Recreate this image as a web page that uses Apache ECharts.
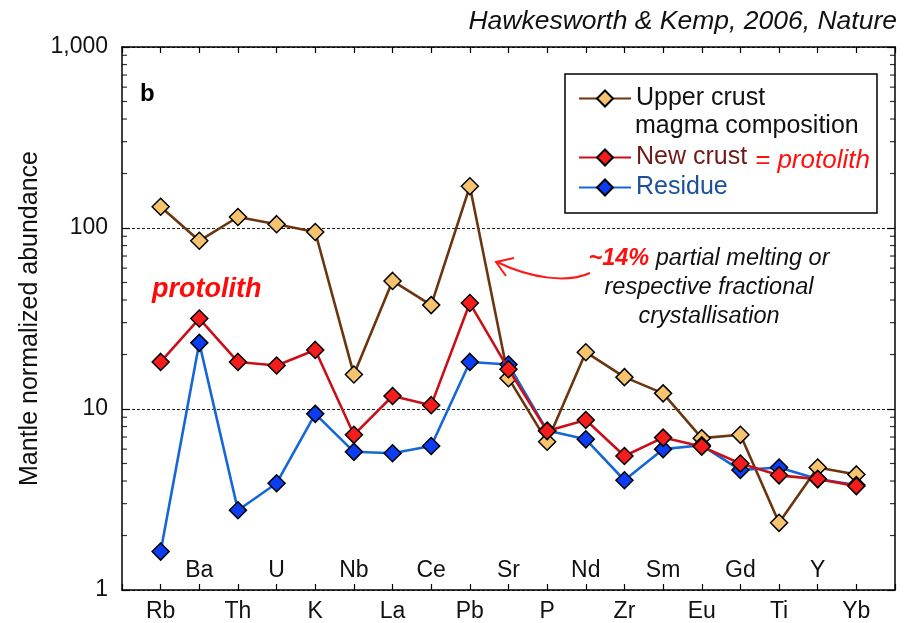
<!DOCTYPE html>
<html>
<head>
<meta charset="utf-8">
<script src="https://cdn.jsdelivr.net/npm/echarts@6/dist/echarts.min.js"></script>
<style>html,body{margin:0;padding:0;background:#fff}#c{width:907px;height:623px}</style>
</head>
<body>
<div id="c"></div>
<script>
// ---- data ----
const categories = ['Rb','Ba','Th','U','K','Nb','La','Ce','Pb','Sr','P','Nd','Zr','Sm','Eu','Gd','Ti','Y','Yb'];
const upperCrust = [131, 85, 115, 105, 95, 15.5, 51, 37.5, 170, 14.8, 6.6, 20.6, 15.0, 12.2, 6.9, 7.2, 2.35, 4.75, 4.35];
const newCrust   = [18.2, 31.6, 18.2, 17.4, 21.2, 7.2, 11.8, 10.5, 38.5, 16.6, 7.55, 8.7, 5.5, 6.95, 6.2, 5.0, 4.3, 4.1, 3.75];
const residue    = [1.63, 23.2, 2.76, 3.89, 9.4, 5.8, 5.7, 6.25, 18.2, 17.6, 7.6, 6.8, 4.04, 6.0, 6.3, 4.6, 4.75, 4.1, 3.8];
const yTickLabels = {1: '1', 10: '10', 100: '100', 1000: '1,000'};
const minorTickValues = [2,3,4,5,6,7,8,9,20,30,40,50,60,70,80,90,200,300,400,500,600,700,800,900];

const FONT = 'Liberation Sans, Arial, Helvetica, sans-serif';
const toXY = arr => arr.map((v, i) => [i, v]);
const xMin = -1, xMax = categories.length;

const chart = echarts.init(document.getElementById('c'), null, {renderer: 'canvas'});

const baseX = {
  type: 'value', min: xMin, max: xMax, interval: 1,
  splitLine: {show: false},
  axisLine: {show: false}, axisTick: {show: false}, axisLabel: {show: false}
};

const option = {
  animation: false,
  backgroundColor: '#fff',
  grid: {left: 122, right: 12, top: 47, bottom: 32, containLabel: false},
  xAxis: [
    Object.assign({}, baseX, {
      position: 'bottom',
      axisLine: {show: true, onZero: false, lineStyle: {color: '#000', width: 1.5}},
      axisTick: {show: true, inside: true, length: 6, lineStyle: {color: '#000', width: 1.2}},
      axisLabel: {
        show: true, margin: 10, fontSize: 23, color: '#111', fontFamily: FONT,
        formatter: v => (v >= 0 && v < categories.length && v % 2 === 0) ? categories[v] : ''
      }
    }),
    Object.assign({}, baseX, {
      position: 'bottom',
      axisLabel: {
        show: true, inside: true, margin: 8, fontSize: 23, color: '#111', fontFamily: FONT,
        formatter: v => (v >= 0 && v < categories.length && v % 2 === 1) ? categories[v] : ''
      }
    }),
    Object.assign({}, baseX, {
      position: 'top',
      axisLine: {show: true, onZero: false, lineStyle: {color: '#000', width: 1.5}},
      axisTick: {show: true, inside: true, length: 6, lineStyle: {color: '#000', width: 1.2}}
    })
  ],
  yAxis: [
    {
      type: 'log', logBase: 10, min: 1, max: 1000, position: 'left',
      name: 'Mantle normalized abundance', nameLocation: 'middle', nameGap: 79, nameRotate: 90,
      nameMoveOverlap: false,
      nameTextStyle: {fontSize: 25, color: '#111', fontFamily: FONT},
      axisLine: {show: true, onZero: false, lineStyle: {color: '#000', width: 1.5}},
      axisTick: {show: true, inside: true, length: 8, lineStyle: {color: '#000', width: 1.2}},
      axisLabel: {fontSize: 23, color: '#111', fontFamily: FONT, margin: 14,
        formatter: v => yTickLabels[Math.round(v)] || ''},
      splitLine: {show: true, lineStyle: {color: '#222', width: 1, type: [3, 2]}}
    },
    {
      type: 'log', logBase: 10, min: 1, max: 1000, position: 'right',
      axisLine: {show: true, onZero: false, lineStyle: {color: '#000', width: 1.5}},
      axisTick: {show: true, inside: true, length: 8, lineStyle: {color: '#000', width: 1.2}},
      axisLabel: {show: false},
      splitLine: {show: false}
    }
  ],
  legend: [
    {
      data: ['Upper crust'], left: 578, top: 86, orient: 'vertical', padding: 0,
      itemWidth: 52, itemHeight: 20, itemGap: 6,
      textStyle: {fontSize: 25, color: '#111', fontFamily: FONT}
    },
    {
      data: [
        {name: 'New crust', textStyle: {color: '#6e1a1a'}},
        {name: 'Residue', textStyle: {color: '#1c4f9c'}}
      ],
      left: 578, top: 145, orient: 'vertical', padding: 0,
      itemWidth: 52, itemHeight: 20, itemGap: 5,
      textStyle: {fontSize: 25, fontFamily: FONT}
    }
  ],
  graphic: [
    {type: 'rect', z: 3, shape: {x: 565, y: 74, width: 312, height: 139},
      style: {fill: '#fff', stroke: '#000', lineWidth: 1.5}},
    {type: 'text', z: 5, style: {text: 'magma composition', x: 635, y: 126, verticalAlign: 'middle',
      fill: '#111', fontSize: 25, fontFamily: FONT}},
    {type: 'text', z: 5, style: {text: '= protolith', x: 755, y: 161, verticalAlign: 'middle',
      fill: '#ff1010', fontSize: 26, fontStyle: 'italic', fontFamily: FONT}},
    {type: 'text', z: 5, style: {text: 'Hawkesworth & Kemp, 2006, Nature', x: 897, y: 22, align: 'right',
      verticalAlign: 'middle', fill: '#111', fontSize: 26.5, fontStyle: 'italic', fontFamily: FONT}},
    {type: 'text', z: 5, style: {text: 'b', x: 140, y: 94, verticalAlign: 'middle',
      fill: '#000', fontSize: 24, fontWeight: 'bold', fontFamily: FONT}},
    {type: 'text', z: 5, style: {text: 'protolith', x: 152, y: 290, verticalAlign: 'middle',
      fill: '#ff0a0a', fontSize: 27, fontWeight: 'bold', fontStyle: 'italic', fontFamily: FONT}},
    {type: 'text', z: 5, style: {
      text: '{r|~14%} partial melting or\nrespective fractional\ncrystallisation',
      x: 709, y: 244, align: 'center', verticalAlign: 'top', lineHeight: 29,
      fill: '#111', fontSize: 23.5, fontStyle: 'italic', fontFamily: FONT,
      rich: {r: {fill: '#ff1010', fontWeight: 'bold', fontStyle: 'italic', fontSize: 23.5, fontFamily: FONT, lineHeight: 29}}
    }},
    {type: 'bezierCurve', z: 5, shape: {x1: 590, y1: 273, cpx1: 568, cpy1: 283, cpx2: 532, cpy2: 279, x2: 497, y2: 262},
      style: {stroke: '#ff1a1a', lineWidth: 2, fill: null}},
    {type: 'polyline', z: 5, shape: {points: [[514, 258], [496, 262], [506, 276]]},
      style: {stroke: '#ff1a1a', lineWidth: 2, fill: null}}
  ],
  series: [
    {
      name: 'Upper crust', type: 'line', data: toXY(upperCrust), z: 2,
      symbol: 'diamond', symbolSize: 17, showAllSymbol: true,
      lineStyle: {color: '#6b3510', width: 2.6},
      itemStyle: {color: '#f6c46e', borderColor: '#000', borderWidth: 1.5}
    },
    {
      name: 'Residue', type: 'line', data: toXY(residue), z: 3,
      symbol: 'diamond', symbolSize: 17, showAllSymbol: true,
      lineStyle: {color: '#1766d8', width: 2.6},
      itemStyle: {color: '#0c3df2', borderColor: '#000', borderWidth: 1.5}
    },
    {
      name: 'New crust', type: 'line', data: toXY(newCrust), z: 4,
      symbol: 'diamond', symbolSize: 17, showAllSymbol: true,
      lineStyle: {color: '#c8101a', width: 2.6},
      itemStyle: {color: '#f41c1c', borderColor: '#000', borderWidth: 1.5}
    },
    {
      name: 'minorL', type: 'scatter', silent: true, clip: false, z: 1,
      data: minorTickValues.map(v => [xMin, v]),
      symbol: 'rect', symbolSize: [5, 1.2], symbolOffset: [2.5, 0],
      itemStyle: {color: '#000'}
    },
    {
      name: 'minorR', type: 'scatter', silent: true, clip: false, z: 1,
      data: minorTickValues.map(v => [xMax, v]),
      symbol: 'rect', symbolSize: [5, 1.2], symbolOffset: [-2.5, 0],
      itemStyle: {color: '#000'}
    }
  ]
};
chart.setOption(option);
</script>
</body>
</html>
